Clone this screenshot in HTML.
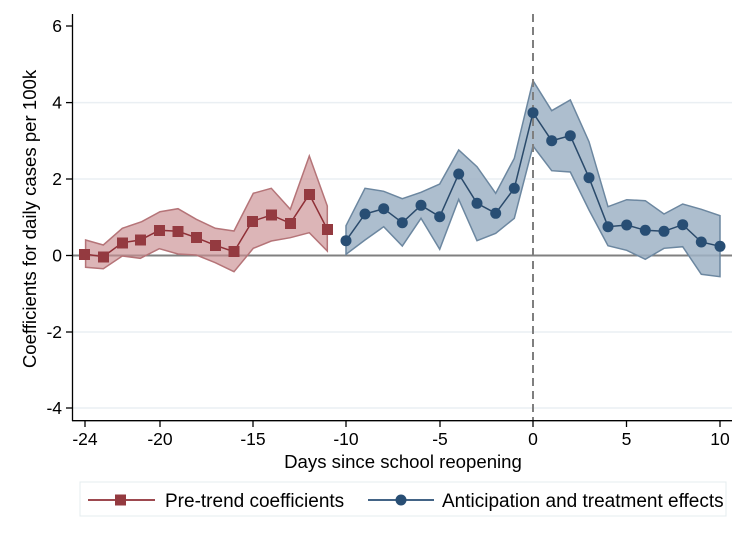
<!DOCTYPE html>
<html><head><meta charset="utf-8"><style>
html,body{margin:0;padding:0;background:#fff;}
svg{display:block;font-family:"Liberation Sans",Arial,sans-serif;}
</style></head><body>
<svg width="750" height="538" viewBox="0 0 750 538" xmlns="http://www.w3.org/2000/svg">
<rect width="750" height="538" fill="#fff"/>
<line x1="73" x2="732" y1="179" y2="179" stroke="#eaeff3" stroke-width="1.5"/>
<line x1="73" x2="732" y1="102.6" y2="102.6" stroke="#eaeff3" stroke-width="1.5"/>
<line x1="73" x2="732" y1="332" y2="332" stroke="#eaeff3" stroke-width="1.5"/>
<line x1="73" x2="732" y1="408" y2="408" stroke="#eaeff3" stroke-width="1.5"/>
<line x1="73" x2="732" y1="255.5" y2="255.5" stroke="#808080" stroke-width="2"/>
<polygon fill="#c98d90" fill-opacity="0.65" stroke="#b57478" stroke-width="1.5"
points="85.6,240 103.3,245 122.3,228.3 141.7,221.7 160,211.7 178,208.7 196.3,219.3 215.3,228.3 234,231 253.3,193.3 271.3,188.3 290.3,209.3 309.3,156 327.3,206 327.3,251 309.3,232.7 290.3,237.7 271.3,241 253.3,248.3 234,271.7 215.3,262.7 196.3,255 178,254 159.3,248.7 140.3,258.3 122.3,256 103.3,268.7 85.6,267.3"/>
<polygon fill="#9fb3c6" fill-opacity="0.85" stroke="#6c87a0" stroke-width="1.5"
points="346,225.7 365,188.3 383.7,191.3 402.3,198.7 421,192.3 439.7,184 458.7,150 477,166.7 495.7,193.3 514.3,158.3 533,80.7 551.7,110.7 570.3,100 589,141.7 608,206.7 626.7,199.7 645.3,200.7 664,214 682.7,204 701.3,209.3 720,215.7 720,276.7 701.3,274.3 682.7,246.7 664,248.3 645.3,259.3 626.7,250.3 608,245.7 589,210 570.3,172 551.7,170.7 533,146 514.3,218.3 495.7,233.3 477,240.7 458.7,199.3 439.7,249.3 421,218.3 402.3,246 383.7,226.7 365,240 346,254.3"/>
<line x1="533" x2="533" y1="14" y2="421" stroke="#7f7f7f" stroke-width="2" stroke-dasharray="8,5"/>
<polyline fill="none" stroke="#8f2f36" stroke-width="1.5"
points="84.3,254 103.3,256.7 122.3,242.7 140.3,240 159.3,230.3 178,231.3 196.3,237.7 215.3,245.3 234,251.7 252.3,221.3 271.3,215 290.3,223.3 309.3,194.3 327.3,229.3"/>
<g fill="#943a40">
<rect x="79" y="249" width="11" height="11"/><rect x="98" y="251.5" width="11" height="11"/><rect x="117" y="237.5" width="11" height="11"/><rect x="135" y="234.5" width="11" height="11"/><rect x="154" y="225" width="11" height="11"/><rect x="172.5" y="226" width="11" height="11"/><rect x="191" y="232" width="11" height="11"/><rect x="210" y="240" width="11" height="11"/><rect x="228.5" y="246" width="11" height="11"/><rect x="247" y="216" width="11" height="11"/><rect x="266" y="209.5" width="11" height="11"/><rect x="285" y="218" width="11" height="11"/><rect x="304" y="189" width="11" height="11"/><rect x="322" y="224" width="11" height="11"/>
</g>
<polyline fill="none" stroke="#2a4a6b" stroke-width="1.5"
points="346,240.7 365,214 383.7,208.7 402.3,222.7 421,205.3 439.7,216.7 458.7,174 477,203.3 495.7,213.3 514.3,188.3 533,112.7 551.7,140.7 570.3,135.7 589,177.7 608,226.7 626.7,225 645.3,230.3 664,231.3 682.7,224.7 701.3,242 720,246.3"/>
<g fill="#284e74">
<circle cx="346" cy="240.7" r="5.5"/><circle cx="365" cy="214" r="5.5"/><circle cx="383.7" cy="208.7" r="5.5"/><circle cx="402.3" cy="222.7" r="5.5"/><circle cx="421" cy="205.3" r="5.5"/><circle cx="439.7" cy="216.7" r="5.5"/><circle cx="458.7" cy="174" r="5.5"/><circle cx="477" cy="203.3" r="5.5"/><circle cx="495.7" cy="213.3" r="5.5"/><circle cx="514.3" cy="188.3" r="5.5"/><circle cx="533" cy="112.7" r="5.5"/><circle cx="551.7" cy="140.7" r="5.5"/><circle cx="570.3" cy="135.7" r="5.5"/><circle cx="589" cy="177.7" r="5.5"/><circle cx="608" cy="226.7" r="5.5"/><circle cx="626.7" cy="225" r="5.5"/><circle cx="645.3" cy="230.3" r="5.5"/><circle cx="664" cy="231.3" r="5.5"/><circle cx="682.7" cy="224.7" r="5.5"/><circle cx="701.3" cy="242" r="5.5"/><circle cx="720" cy="246.3" r="5.5"/>
</g>
<line x1="72.5" x2="72.5" y1="14" y2="421" stroke="#000" stroke-width="1.3"/>
<line x1="72" x2="732" y1="420.7" y2="420.7" stroke="#000" stroke-width="1.3"/>
<g stroke="#000" stroke-width="1.3">
<line x1="66" x2="72" y1="26" y2="26"/><line x1="66" x2="72" y1="102.6" y2="102.6"/><line x1="66" x2="72" y1="179" y2="179"/><line x1="66" x2="72" y1="255.5" y2="255.5"/><line x1="66" x2="72" y1="332" y2="332"/><line x1="66" x2="72" y1="408" y2="408"/>
<line x1="85" x2="85" y1="421" y2="427"/><line x1="160" x2="160" y1="421" y2="427"/><line x1="253" x2="253" y1="421" y2="427"/><line x1="346" x2="346" y1="421" y2="427"/><line x1="440" x2="440" y1="421" y2="427"/><line x1="533" x2="533" y1="421" y2="427"/><line x1="626.5" x2="626.5" y1="421" y2="427"/><line x1="720" x2="720" y1="421" y2="427"/>
</g>
<g font-size="17.5" fill="#000" text-anchor="end">
<text x="62" y="32">6</text><text x="62" y="108.6">4</text><text x="62" y="185">2</text><text x="62" y="261.5">0</text><text x="62" y="338">-2</text><text x="62" y="414">-4</text>
</g>
<g font-size="17.5" fill="#000" text-anchor="middle">
<text x="85" y="445">-24</text><text x="160" y="445">-20</text><text x="253" y="445">-15</text><text x="346" y="445">-10</text><text x="440" y="445">-5</text><text x="533" y="445">0</text><text x="626.5" y="445">5</text><text x="720" y="445">10</text>
</g>
<text x="403" y="468" font-size="18.6" text-anchor="middle" fill="#000">Days since school reopening</text>
<text transform="translate(36,219) rotate(-90)" font-size="18.6" text-anchor="middle" fill="#000">Coefficients for daily cases per 100k</text>
<rect x="80" y="482" width="646" height="34" fill="#fff" stroke="#e4ecef" stroke-width="1"/>
<line x1="88" x2="155" y1="500" y2="500" stroke="#8f2f36" stroke-width="1.8"/>
<rect x="115" y="494.5" width="11" height="11" fill="#943a40"/>
<text x="165" y="507" font-size="19" fill="#000">Pre-trend coefficients</text>
<line x1="368" x2="434" y1="500" y2="500" stroke="#284e74" stroke-width="1.8"/>
<circle cx="401" cy="500" r="5.5" fill="#284e74"/>
<text x="442" y="507" font-size="19" fill="#000">Anticipation and treatment effects</text>
</svg>
</body></html>
